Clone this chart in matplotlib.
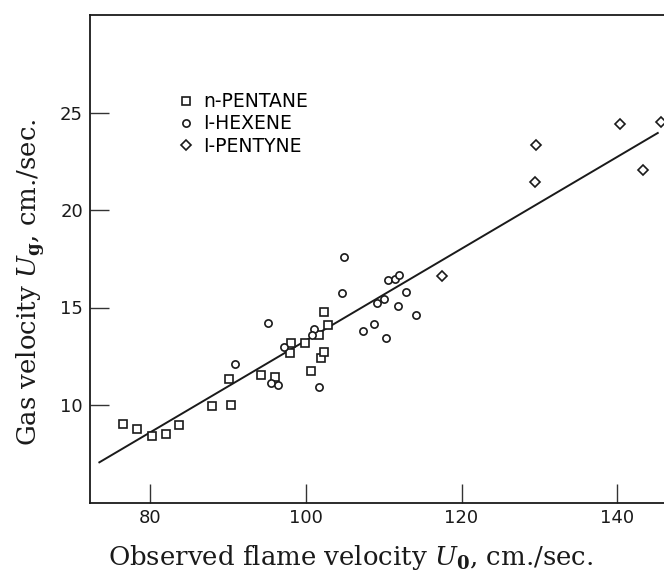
import matplotlib
matplotlib.use('Agg')
import matplotlib.pyplot as plt

# n-pentane (squares)
pentane_x = [76.6, 78.3, 80.3, 82.0, 83.7, 88.0, 90.4, 90.2, 94.2, 96.1,
             98.1, 98.0, 99.9, 100.7, 101.7, 102.0, 102.3, 102.3, 102.9]
pentane_y = [9.02, 8.75, 8.41, 8.49, 8.96, 9.95, 10.0, 11.35, 11.56, 11.42,
             13.2, 12.65, 13.17, 11.76, 13.6, 12.41, 12.72, 14.79, 14.11]

# 1-hexene (circles)
hexene_x = [90.9, 95.2, 95.6, 96.4, 97.2, 101.1, 100.8, 101.7, 104.9, 104.7,
            107.3, 108.8, 109.1, 110.5, 111.4, 112.0, 110.1, 112.9, 111.9,
            114.1, 110.3]
hexene_y = [12.09, 14.18, 11.15, 11.01, 12.99, 13.89, 13.6, 10.94, 17.59, 15.74,
            13.77, 14.16, 15.22, 16.42, 16.45, 16.68, 15.43, 15.77, 15.08,
            14.6, 13.42]

# 1-pentyne (diamonds)
pentyne_x = [117.5, 129.6, 129.4, 140.4, 143.3, 145.6]
pentyne_y = [16.63, 23.35, 21.45, 24.42, 22.07, 24.5]

# straight line through the data
fit_x = [73.5, 145.2]
fit_y = [7.06, 23.95]

xticks = [80, 100, 120, 140]
yticks = [10, 15, 20, 25]

plt.rcParams['mathtext.fontset'] = 'dejavuserif'

fig = plt.figure(figsize=(6.64, 5.74), dpi=100)
ax = fig.add_axes([90 / 664, 71.5 / 574, 1 - 90 / 664, 487.5 / 574])

ax.plot(fit_x, fit_y, color='#1a1a1a', lw=1.4, zorder=2)

mk = dict(linestyle='none', markerfacecolor='white', markeredgecolor='#1a1a1a',
          markeredgewidth=1.2, zorder=3)
ax.plot(pentane_x, pentane_y, marker='s', markersize=5.2, label='n-PENTANE', **mk)
ax.plot(hexene_x, hexene_y, marker='o', markersize=5.2, label='I-HEXENE', **mk)
ax.plot(pentyne_x, pentyne_y, marker='D', markersize=4.6, label='I-PENTYNE', **mk)

ax.set_xlim(72.3, 146.0)
ax.set_ylim(5, 30)
ax.set_xticks(xticks)
ax.set_yticks(yticks)
ax.tick_params(direction='in', length=14, width=1.0, color='#333333',
               labelsize=13, labelcolor='#1a1a1a')
ax.tick_params(axis='x', pad=5)
ax.tick_params(axis='y', pad=5)
for lab in ax.get_xticklabels() + ax.get_yticklabels():
    lab.set_family('DejaVu Sans')

for s in ['left', 'bottom', 'top']:
    ax.spines[s].set_linewidth(1.3)
    ax.spines[s].set_color('#1a1a1a')
ax.spines['right'].set_visible(False)

leg = ax.legend(loc='upper left', bbox_to_anchor=(0.145, 0.857), frameon=False,
                handlelength=0.6, handletextpad=0.6, labelspacing=0.17,
                borderaxespad=0, prop={'family': 'DejaVu Sans', 'size': 13.5})

fig.text(351 / 664, 1 - 557 / 574, r'Observed flame velocity $U_\mathbf{0}$, cm./sec.',
         family='DejaVu Serif', fontsize=18.7, ha='center', va='center', color='#1a1a1a')
fig.text(31 / 664, 1 - 282 / 574, r'Gas velocity $U_\mathbf{g}$, cm./sec.',
         family='DejaVu Serif', fontsize=18.7, ha='center', va='center',
         rotation=90, color='#1a1a1a')

plt.savefig('out.png', dpi=100)
